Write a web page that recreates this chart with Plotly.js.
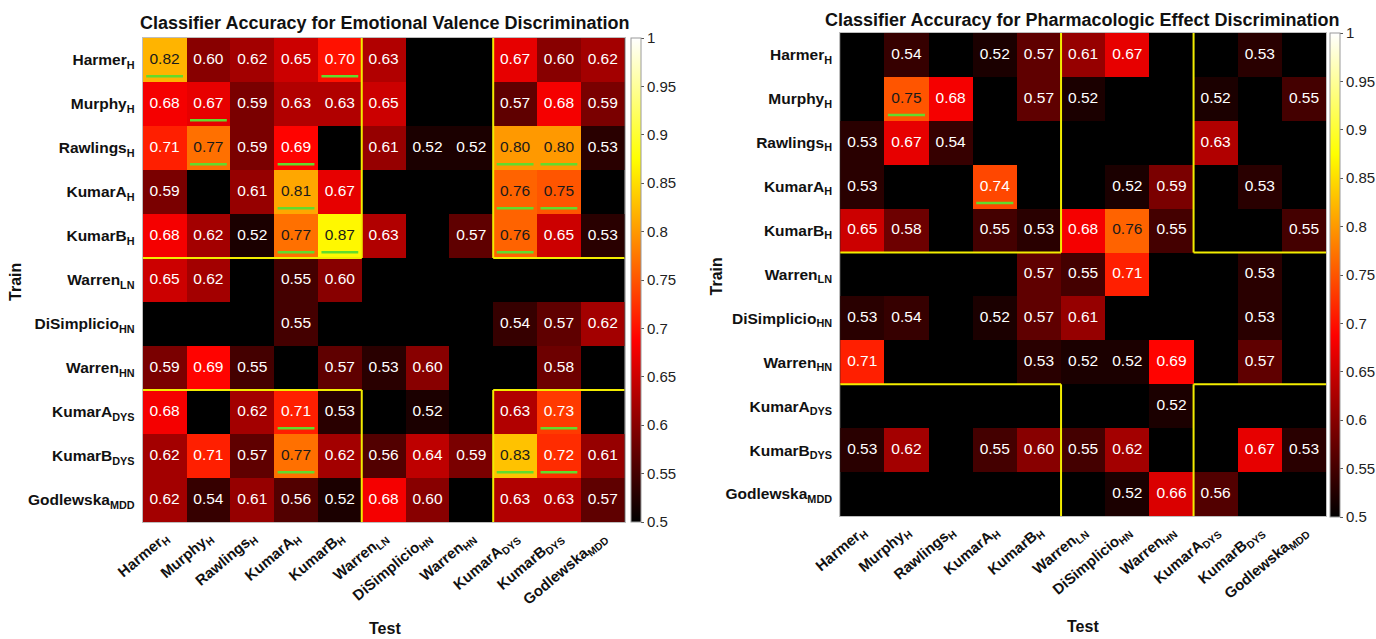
<!DOCTYPE html>
<html>
<head>
<meta charset="utf-8">
<script src="https://cdn.plot.ly/plotly-3.0.1.min.js"></script>
<style>
  html, body { margin: 0; padding: 0; background: #ffffff; }
  #chart { width: 1376px; height: 639px; }
</style>
</head>
<body>
<div id="chart"></div>
<script>
// ---------------- DATA ----------------
const trainLabels = [
  'Harmer<sub>H</sub>', 'Murphy<sub>H</sub>', 'Rawlings<sub>H</sub>', 'KumarA<sub>H</sub>', 'KumarB<sub>H</sub>',
  'Warren<sub>LN</sub>', 'DiSimplicio<sub>HN</sub>', 'Warren<sub>HN</sub>',
  'KumarA<sub>DYS</sub>', 'KumarB<sub>DYS</sub>', 'Godlewska<sub>MDD</sub>'
];
const testLabels = trainLabels.slice();

// Emotional valence discrimination (rows = train, cols = test); null = below 0.5 (black)
const valence = [
  [0.82, 0.60, 0.62, 0.65, 0.70, 0.63, null, null, 0.67, 0.60, 0.62],
  [0.68, 0.67, 0.59, 0.63, 0.63, 0.65, null, null, 0.57, 0.68, 0.59],
  [0.71, 0.77, 0.59, 0.69, null, 0.61, 0.52, 0.52, 0.80, 0.80, 0.53],
  [0.59, null, 0.61, 0.81, 0.67, null, null, null, 0.76, 0.75, null],
  [0.68, 0.62, 0.52, 0.77, 0.87, 0.63, null, 0.57, 0.76, 0.65, 0.53],
  [0.65, 0.62, null, 0.55, 0.60, null, null, null, null, null, null],
  [null, null, null, 0.55, null, null, null, null, 0.54, 0.57, 0.62],
  [0.59, 0.69, 0.55, null, 0.57, 0.53, 0.60, null, null, 0.58, null],
  [0.68, null, 0.62, 0.71, 0.53, null, 0.52, null, 0.63, 0.73, null],
  [0.62, 0.71, 0.57, 0.77, 0.62, 0.56, 0.64, 0.59, 0.83, 0.72, 0.61],
  [0.62, 0.54, 0.61, 0.56, 0.52, 0.68, 0.60, null, 0.63, 0.63, 0.57]
];

// Pharmacologic effect discrimination
const pharma = [
  [null, 0.54, null, 0.52, 0.57, 0.61, 0.67, null, null, 0.53, null],
  [null, 0.75, 0.68, null, 0.57, 0.52, null, null, 0.52, null, 0.55],
  [0.53, 0.67, 0.54, null, null, null, null, null, 0.63, null, null],
  [0.53, null, null, 0.74, null, null, 0.52, 0.59, null, 0.53, null],
  [0.65, 0.58, null, 0.55, 0.53, 0.68, 0.76, 0.55, null, null, 0.55],
  [null, null, null, null, 0.57, 0.55, 0.71, null, null, 0.53, null],
  [0.53, 0.54, null, 0.52, 0.57, 0.61, null, null, null, 0.53, null],
  [0.71, null, null, null, 0.53, 0.52, 0.52, 0.69, null, 0.57, null],
  [null, null, null, null, null, null, null, 0.52, null, null, null],
  [0.53, 0.62, null, 0.55, 0.60, 0.55, 0.62, null, null, 0.67, 0.53],
  [null, null, null, null, null, null, 0.52, 0.66, 0.56, null, null]
];

// Significant cells (underlined in green): [trainIndex, testIndex]
const sigValence = [[0,0],[0,4],[1,1],[2,1],[2,3],[2,8],[2,9],[3,3],[3,8],[3,9],
                    [4,3],[4,4],[4,8],[8,3],[8,9],[9,3],[9,8],[9,9]];
const sigPharma = [[1,1],[3,3]];

// Study groups (index ranges) and highlighted group blocks [rowGroup, colGroup]
const groups = [[0,4],[5,7],[8,10]];
const blocks = [[0,0],[0,2],[2,0],[2,2]];

const cbTicks = [0.5,0.55,0.6,0.65,0.7,0.75,0.8,0.85,0.9,0.95,1];
const cbTickText = ['0.5','0.55','0.6','0.65','0.7','0.75','0.8','0.85','0.9','0.95','1'];

// ---------------- BUILD ----------------
const hot = [[0,'rgb(0,0,0)'],[0.375,'rgb(255,0,0)'],[0.75,'rgb(255,255,0)'],[1,'rgb(255,255,255)']];
const idx = trainLabels.map((_, i) => i);
const FONT = 'Liberation Sans, Arial, Helvetica, sans-serif';

function heat(z, xa, ya, cbx, cby) {
  return {
    type: 'heatmap', z: z, x: idx, y: idx, xaxis: xa, yaxis: ya,
    colorscale: hot, zmin: 0.5, zmax: 1, hoverinfo: 'skip',
    colorbar: {
      x: cbx, xanchor: 'left', xref: 'paper', y: cby, yanchor: 'top', yref: 'paper',
      len: 484/639, lenmode: 'fraction', thickness: 10, xpad: 0, ypad: 0,
      outlinecolor: '#9a9a9a', outlinewidth: 1,
      tickvals: cbTicks, ticktext: cbTickText, ticks: 'outside', ticklen: 3, tickcolor: '#555',
      tickfont: {family: FONT, size: 15, color: '#222'}
    }
  };
}
function labels(z, xa, ya) {
  const xs = [], ys = [], ts = [], cs = [];
  z.forEach((row, r) => row.forEach((v, c) => {
    if (v !== null) { xs.push(c); ys.push(r); ts.push(v.toFixed(2)); cs.push(v >= 0.745 ? '#1a1a1a' : '#ffffff'); }
  }));
  return { type: 'scatter', mode: 'text', x: xs, y: ys, text: ts, xaxis: xa, yaxis: ya,
           textposition: 'middle center', textfont: {family: FONT, size: 15.5, color: cs},
           hoverinfo: 'skip', showlegend: false };
}
function shapesFor(sig, xr, yr) {
  const s = [];
  sig.forEach(([r, c]) => s.push({type: 'line', xref: xr, yref: yr,
    x0: c - 0.42, x1: c + 0.42, y0: r + 0.37, y1: r + 0.37,
    line: {color: '#62dc2c', width: 2.5}, layer: 'above'}));
  const lo = -0.5, hi = idx.length - 0.5;
  const seg = (x0, y0, x1, y1) => s.push({type: 'line', xref: xr, yref: yr, x0, y0, x1, y1,
    line: {color: '#f2ec00', width: 2}, layer: 'above'});
  blocks.forEach(([rg, cg]) => {
    const top = groups[rg][0] - 0.5, bot = groups[rg][1] + 0.5;
    const left = groups[cg][0] - 0.5, right = groups[cg][1] + 0.5;
    if (top > lo) seg(left, top, right, top);
    if (bot < hi) seg(left, bot, right, bot);
    if (left > lo) seg(left, top, left, bot);
    if (right < hi) seg(right, top, right, bot);
  });
  return s;
}

const W = 1376, H = 639;
const L = {x0: 143, x1: 626, y0: 38, y1: 522};
const R = {x0: 842, x1: 1329, y0: 33, y1: 516};

function xax(box, anchor) {
  return { domain: [box.x0/W, box.x1/W], anchor: anchor, range: [-0.5, 10.5],
    tickvals: idx, ticktext: testLabels, tickangle: -40, ticks: '',
    tickfont: {family: FONT, size: 15, color: '#111', weight: 'bold'},
    showline: true, mirror: true, linecolor: '#bdbdbd', linewidth: 1,
    showgrid: false, zeroline: false, fixedrange: true };
}
function yax(box, anchor) {
  return { domain: [1 - box.y1/H, 1 - box.y0/H], anchor: anchor, range: [10.5, -0.5],
    tickvals: idx, ticktext: trainLabels, ticks: '', ticklabelstandoff: 4,
    tickfont: {family: FONT, size: 15.5, color: '#111', weight: 'bold'},
    showline: true, mirror: true, linecolor: '#bdbdbd', linewidth: 1,
    showgrid: false, zeroline: false, fixedrange: true };
}

const data = [
  heat(valence, 'x', 'y', 632/W, 1 - L.y0/H),
  labels(valence, 'x', 'y'),
  heat(pharma, 'x2', 'y2', 1333/W, 1 - R.y0/H),
  labels(pharma, 'x2', 'y2')
];

const ann = (text, x, y, size, angle) => ({
  text: text, xref: 'paper', yref: 'paper', x: x/W, y: 1 - y/H,
  xanchor: 'center', yanchor: 'middle', showarrow: false, textangle: angle || 0,
  font: {family: FONT, size: size, color: '#111', weight: 'bold'}
});

const layout = {
  width: W, height: H, margin: {l: 0, r: 0, t: 0, b: 0},
  paper_bgcolor: '#ffffff', plot_bgcolor: '#000000', showlegend: false,
  font: {family: FONT},
  xaxis: xax(L, 'y'), yaxis: yax(L, 'x'),
  xaxis2: xax(R, 'y2'), yaxis2: yax(R, 'x2'),
  shapes: shapesFor(sigValence, 'x', 'y').concat(shapesFor(sigPharma, 'x2', 'y2')),
  annotations: [
    ann('Classifier Accuracy for Emotional Valence Discrimination', 386, 23, 18),
    ann('Classifier Accuracy for Pharmacologic Effect Discrimination', 1085, 20, 18),
    ann('Test', 386, 628, 16),
    ann('Test', 1085, 626, 16),
    ann('Train', 16, 282, 16, -90),
    ann('Train', 718, 276, 16, -90)
  ]
};

Plotly.newPlot('chart', data, layout, {staticPlot: true, displayModeBar: false});
</script>
</body>
</html>
